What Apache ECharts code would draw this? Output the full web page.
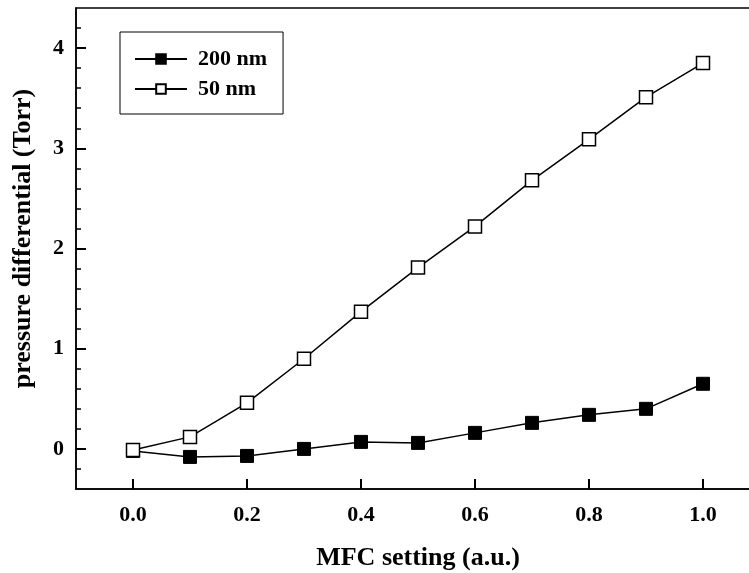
<!DOCTYPE html>
<html>
<head>
<meta charset="utf-8">
<script src="https://cdn.jsdelivr.net/npm/echarts@6/dist/echarts.min.js"></script>
<style>
  html, body { margin: 0; padding: 0; background: #fff; }
  #chart { width: 749px; height: 573px; }
</style>
</head>
<body>
<div id="chart"></div>
<script>
// MFC setting (a.u.)
const mfc = [0.0, 0.1, 0.2, 0.3, 0.4, 0.5, 0.6, 0.7, 0.8, 0.9, 1.0]
// pressure differential (Torr)
const p200 = [-0.02, -0.08, -0.07, 0.0, 0.07, 0.06, 0.16, 0.26, 0.34, 0.40, 0.65]
const p50 = [-0.01, 0.12, 0.46, 0.90, 1.37, 1.81, 2.22, 2.68, 3.09, 3.51, 3.85]
const xTicks = [0.0, 0.2, 0.4, 0.6, 0.8, 1.0]
const yTicks = [0, 1, 2, 3, 4]
const yMinor = [-0.2, 0.2, 0.4, 0.6, 0.8, 1.2, 1.4, 1.6, 1.8, 2.2, 2.4, 2.6, 2.8, 3.2, 3.4, 3.6, 3.8, 4.2]

const font = 'Liberation Serif'
const chart = echarts.init(document.getElementById('chart'))

const pairs = (ys) => mfc.map((x, i) => [x, ys[i]])

chart.setOption({
  animation: false,
  backgroundColor: '#fff',
  grid: {
    left: 76, top: 8, width: 684, bottom: 84,
    outerBoundsMode: 'none',
    show: true, borderColor: '#000', borderWidth: 1.5
  },
  legend: {
    orient: 'vertical',
    left: 120, top: 32,
    padding: [16, 16, 14, 14],
    itemWidth: 52, itemHeight: 12, itemGap: 8,
    borderColor: '#000', borderWidth: 1,
    textStyle: { fontFamily: font, fontWeight: 'bold', fontSize: 22, color: '#000', padding: [0, 0, 0, 6] },
    data: ['200 nm', '50 nm']
  },
  xAxis: {
    type: 'value', min: -0.1, max: 1.1,
    name: 'MFC setting (a.u.)', nameLocation: 'middle', nameGap: 56,
    nameTextStyle: { fontFamily: font, fontWeight: 'bold', fontSize: 26, color: '#000' },
    axisLine: { onZero: false, lineStyle: { color: '#000', width: 1.5 } },
    axisTick: { show: true, inside: true, length: 10, customValues: xTicks, lineStyle: { color: '#000', width: 2 } },
    axisLabel: {
      customValues: xTicks, margin: 15,
      formatter: (v) => v.toFixed(1),
      fontFamily: font, fontWeight: 'bold', fontSize: 22, color: '#000'
    },
    splitLine: { show: false }
  },
  yAxis: [{
    type: 'value', min: -0.4, max: 4.4,
    name: 'pressure differential (Torr)', nameLocation: 'middle', nameGap: 40,
    nameTextStyle: { fontFamily: font, fontWeight: 'bold', fontSize: 26, color: '#000', padding: [0, 0, 0, 20] },
    axisLine: { onZero: false, lineStyle: { color: '#000', width: 1.5 } },
    axisTick: { show: true, inside: true, length: 10, customValues: yTicks, lineStyle: { color: '#000', width: 2 } },
    axisLabel: {
      customValues: yTicks, margin: 12,
      fontFamily: font, fontWeight: 'bold', fontSize: 22, color: '#000'
    },
    splitLine: { show: false }
  }, {
    // minor ticks on the left side
    type: 'value', min: -0.4, max: 4.4, position: 'left',
    axisLine: { show: false, onZero: false },
    axisTick: { show: true, inside: true, length: 5, customValues: yMinor, lineStyle: { color: '#000', width: 1.5 } },
    axisLabel: { show: false },
    splitLine: { show: false }
  }],
  series: [
    {
      name: '200 nm', type: 'line', data: pairs(p200),
      symbol: 'rect', symbolSize: 13,
      lineStyle: { color: '#000', width: 1.5 },
      itemStyle: { color: '#000', borderColor: '#000', borderWidth: 1 }
    },
    {
      name: '50 nm', type: 'line', data: pairs(p50),
      symbol: 'rect', symbolSize: 13,
      lineStyle: { color: '#000', width: 1.5 },
      itemStyle: { color: '#fff', borderColor: '#000', borderWidth: 1.5 }
    }
  ]
})
</script>
</body>
</html>
